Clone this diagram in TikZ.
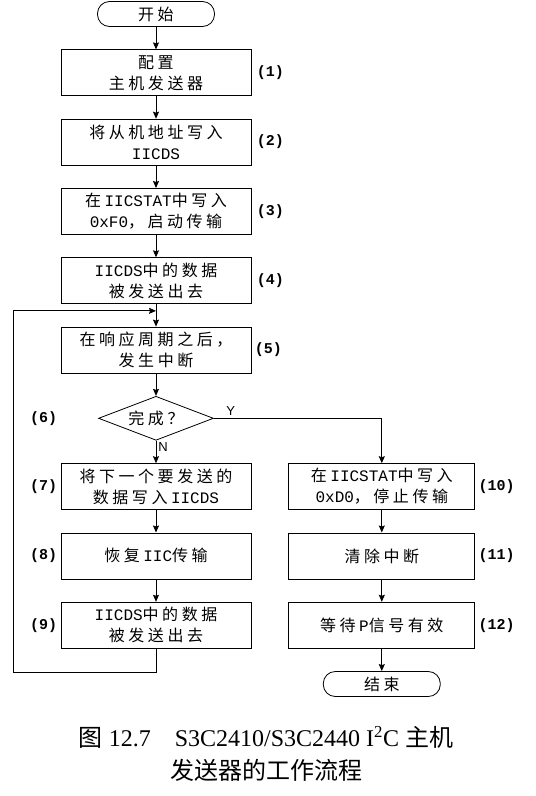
\documentclass[tikz,border=0pt]{standalone}
\usepackage{fontspec}
\setmainfont{Liberation Serif}
\setsansfont{Liberation Sans}
\setmonofont{Liberation Mono}
\newfontfamily\cjk[LetterSpace=22]{Noto Sans CJK SC}
\newfontfamily\cjkcap{Noto Sans CJK SC}
\usepackage{tikz}
\usetikzlibrary{positioning,shapes.geometric,calc,arrows.meta}

\begin{document}
\begin{tikzpicture}[>={Stealth[length=7pt,width=6pt,inset=1pt]},node distance=22.5pt,
    x=1pt,y=1pt,line width=0.8pt]
  \tikzstyle{stepbox}=[draw,minimum width=190pt,minimum height=46pt,align=center,
    inner sep=2pt,font=\fontsize{16}{21}\selectfont\cjk]
  \tikzstyle{termbox}=[draw,rounded corners=12pt,minimum width=117pt,minimum height=25pt,
    inner sep=1pt,font=\fontsize{16}{18}\selectfont\cjk]
  \tikzstyle{decbox}=[draw,diamond,aspect=2.6,minimum width=115pt,minimum height=44pt,
    inner sep=0pt,font=\fontsize{16}{18}\selectfont\cjk]
  \tikzstyle{numlbl}=[inner sep=2pt,font=\fontsize{15}{18}\selectfont\ttfamily\bfseries]
  \tikzstyle{yn}=[inner sep=2pt,font=\fontsize{13}{15}\selectfont\sffamily]
  \useasboundingbox (0,0) rectangle (536,-796);
  % main column
  \node[termbox] (start) at (156,-14) {开始};
  \node[stepbox,below=of start] (b1) {配置\\主机发送器};
  \node[stepbox,below=of b1] (b2) {将从机地址写入\\\texttt{IICDS}};
  \node[stepbox,below=of b2] (b3) {在\texttt{IICSTAT}中写入\\\texttt{0xF0}，启动传输};
  \node[stepbox,below=of b3] (b4) {\texttt{IICDS}中的数据\\被发送出去};
  \node[stepbox,below=of b4] (b5) {在响应周期之后，\\发生中断};
  \node[decbox,below=of b5] (dec) {完成？};
  \node[stepbox,below=of dec] (b7) {将下一个要发送的\\数据写入\texttt{IICDS}};
  \node[stepbox,below=of b7] (b8) {恢复\texttt{IIC}传输};
  \node[stepbox,below=of b8] (b9) {\texttt{IICDS}中的数据\\被发送出去};
  % stop column
  \node[stepbox,minimum width=186pt,right=37pt of b7] (b10) {在\texttt{IICSTAT}中写入\\\texttt{0xD0}，停止传输};
  \node[stepbox,minimum width=186pt,below=of b10] (b11) {清除中断};
  \node[stepbox,minimum width=186pt,below=of b11] (b12) {等待\texttt{P}信号有效};
  \node[termbox,below=of b12] (end) {结束};
  % step numbers
  \node[numlbl,right=3pt of b1] (l1) {(1)};
  \node[numlbl,right=3pt of b2] (l2) {(2)};
  \node[numlbl,right=3pt of b3] (l3) {(3)};
  \node[numlbl,right=3pt of b4] (l4) {(4)};
  \node[numlbl,right=1pt of b5] (l5) {(5)};
  \node[numlbl,left=1pt of b7] (l7) {(7)};
  \node[numlbl,left=1pt of b8] (l8) {(8)};
  \node[numlbl,left=1pt of b9] (l9) {(9)};
  \node[numlbl] (l6) at (l7 |- dec) {(6)};
  \node[numlbl,right=1pt of b10] (l10) {(10)};
  \node[numlbl,right=1pt of b11] (l11) {(11)};
  \node[numlbl,right=1pt of b12] (l12) {(12)};
  % helper points
  \coordinate (jn) at ($(b4.south)!0.3!(b5.north)$);
  \coordinate[below=24pt of b9] (lc);
  \coordinate (lx) at (13,0);
  \coordinate (yc) at (dec.east -| b10);
  % arrows
  \draw[->] (start)--(b1);
  \draw[->] (b1)--(b2);
  \draw[->] (b2)--(b3);
  \draw[->] (b3)--(b4);
  \draw[->] (b4)--(b5);
  \draw[->] (b5)--(dec);
  \draw[->] (dec)--node[yn,right,pos=0.3]{N}(b7);
  \draw[->] (b7)--(b8);
  \draw[->] (b8)--(b9);
  \draw[->] (b9)--(lc)-|(lx |- jn)--(jn);
  \draw[->] (dec.east)--node[yn,above,pos=0.1]{Y}(yc)--(b10);
  \draw[->] (b10)--(b11);
  \draw[->] (b11)--(b12);
  \draw[->] (b12)--(end);
  % caption
  \node[font=\fontsize{24}{28}\selectfont] (cap1) at (266,-737)
    {{\cjkcap 图} 12.7\quad S3C2410/S3C2440 I\textsuperscript{2}C {\cjkcap 主机}};
  \node[font=\fontsize{24}{28}\selectfont\cjkcap] (cap2) at (266,-770) {发送器的工作流程};
\end{tikzpicture}
\end{document}
